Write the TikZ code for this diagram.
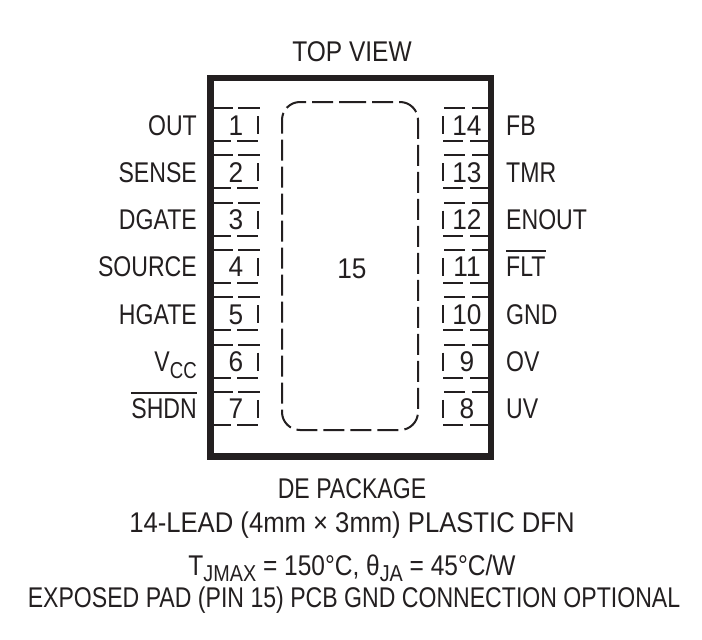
\documentclass[tikz,border=0pt]{standalone}
\usepackage{fontspec}
\setmainfont{Liberation Sans}[FakeStretch=0.81]
\newfontfamily\digitfont{Liberation Sans}[FakeStretch=0.92]
\newfontfamily\widefont{Liberation Sans}[FakeStretch=0.90]
\newfontfamily\midfont{Liberation Sans}[FakeStretch=0.86]
\newcommand{\lowsub}[1]{\raisebox{-0.24em}{\fontsize{23}{23}\selectfont #1}}
\newcommand{\barred}[1]{\setbox0\hbox{#1}\rlap{\raisebox{25pt}{\rule{\wd0}{1.8pt}}}\box0}
\definecolor{ink}{RGB}{35,31,32}
\tikzset{
  lbl/.style={inner sep=0pt,text=ink,font=\fontsize{28.5}{28.5}\selectfont},
  leftlbl/.style={lbl,anchor=base east},
  rightlbl/.style={lbl,anchor=base west},
  numlbl/.style={lbl,anchor=base},
  pinnum/.style={numlbl,font=\fontsize{28.5}{28.5}\selectfont\digitfont},
  pinline/.style={draw=ink,line width=2pt},
  body/.style={draw=ink,line width=6.5pt,line join=miter},
  pad/.style={draw=ink,line width=2pt,dash pattern=on 21pt off 6pt}
}
\begin{document}
\begin{tikzpicture}[x=1pt,y=-1pt]
\useasboundingbox (0,0) rectangle (702,640);
\fill[white] (0,0) rectangle (702,640);
\draw[body] (210.5,78) rectangle (491,456.5);
\draw[pad,rounded corners=18pt] (345,102) -- (418,102) -- (418,430) -- (282,430) -- (282,102) -- (345,102);
\foreach \n/\t [count=\i from 0] in {1/OUT,2/SENSE,3/DGATE,4/SOURCE,5/HGATE,6/{V\lowsub{CC}},7/{\barred{SHDN}}}{
  \pgfmathsetmacro{\yy}{108+47.33*\i}
  \draw[pinline] (214,\yy) -- (233,\yy) (238,\yy) -- (260,\yy)
    (214,\yy+33) -- (231,\yy+33) (237,\yy+33) -- (258,\yy+33)
    (258,\yy+8) -- (258,\yy+26);
  \node[pinnum] (pl\n) at (236,\yy+27) {\n};
  \node[leftlbl] (tl\n) at (197,\yy+27) {\t};
}
\foreach \n/\t [count=\i from 0] in {14/FB,13/TMR,12/ENOUT,11/{\barred{FLT}},10/GND,9/OV,8/UV}{
  \pgfmathsetmacro{\yy}{108+47.33*\i}
  \draw[pinline] (444,\yy) -- (465,\yy) (472,\yy) -- (488,\yy)
    (443,\yy+33) -- (463,\yy+33) (470,\yy+33) -- (488,\yy+33)
    (443,\yy+8) -- (443,\yy+26);
  \node[pinnum] (pr\n) at (467,\yy+27) {\n};
  \node[rightlbl] (tr\n) at (506,\yy+27) {\t};
}
\node[numlbl] (topview) at (352,61) {\midfont TOP VIEW};
\node[pinnum] (padnum) at (352,278) {15};
\node[numlbl] (pkg) at (352,498) {DE PACKAGE};
\node[numlbl] (lead) at (352,532) {\widefont 14-LEAD (4mm × 3mm) PLASTIC DFN};
\node[numlbl] (therm) at (352,575) {\midfont T\lowsub{JMAX} = 150°C, θ\lowsub{JA} = 45°C/W};
\node[numlbl] (exposed) at (354,607) {EXPOSED PAD (PIN 15) PCB GND CONNECTION OPTIONAL};
\end{tikzpicture}
\end{document}
